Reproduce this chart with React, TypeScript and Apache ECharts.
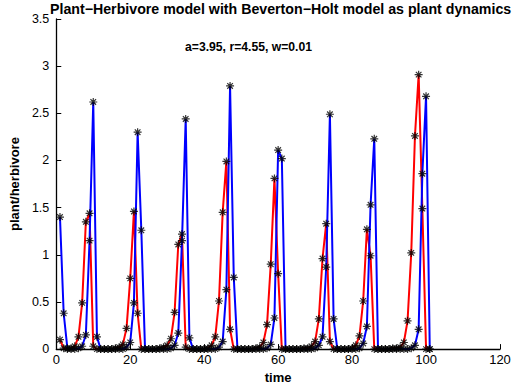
import React, { useEffect, useRef } from "react";
import * as echarts from "echarts";

const timeSteps: number[] = Array.from({ length: 101 }, (_, i) => i + 1);

const plant: number[] = [
  0.10, 0.01, 0.00, 0.01, 0.03, 0.13, 0.49, 1.35, 1.44, 0.03,
  0.00, 0.00, 0.00, 0.00, 0.00, 0.01, 0.02, 0.05, 0.22, 0.75,
  1.46, 0.38, 0.00, 0.00, 0.00, 0.00, 0.00, 0.01, 0.02, 0.04,
  0.11, 0.39, 1.11, 1.22, 0.02, 0.00, 0.00, 0.00, 0.00, 0.00,
  0.01, 0.04, 0.13, 0.51, 1.45, 1.99, 0.21, 0.00, 0.00, 0.00,
  0.00, 0.00, 0.00, 0.01, 0.02, 0.07, 0.26, 0.90, 1.81, 0.80,
  0.00, 0.00, 0.00, 0.00, 0.00, 0.00, 0.01, 0.01, 0.03, 0.08,
  0.32, 0.96, 1.33, 0.08, 0.00, 0.00, 0.00, 0.00, 0.00, 0.01,
  0.04, 0.14, 0.51, 1.27, 0.99, 0.00, 0.00, 0.00, 0.00, 0.00,
  0.01, 0.01, 0.02, 0.07, 0.30, 1.02, 2.26, 2.91, 1.49, 0.00,
  0.00,
];

const herbivore: number[] = [
  1.40, 0.38, 0.01, 0.00, 0.00, 0.01, 0.03, 0.15, 1.15, 2.62,
  0.13, 0.00, 0.00, 0.00, 0.00, 0.00, 0.00, 0.00, 0.02, 0.07,
  0.49, 2.30, 1.26, 0.00, 0.00, 0.00, 0.00, 0.00, 0.00, 0.00,
  0.01, 0.04, 0.17, 1.15, 2.44, 0.12, 0.00, 0.00, 0.00, 0.00,
  0.00, 0.00, 0.00, 0.02, 0.08, 0.63, 2.79, 0.76, 0.00, 0.00,
  0.00, 0.00, 0.00, 0.00, 0.00, 0.00, 0.01, 0.05, 0.33, 2.11,
  2.02, 0.00, 0.00, 0.00, 0.00, 0.00, 0.00, 0.00, 0.00, 0.01,
  0.04, 0.13, 0.87, 2.49, 0.32, 0.00, 0.00, 0.00, 0.00, 0.00,
  0.00, 0.01, 0.06, 0.24, 1.53, 2.23, 0.00, 0.00, 0.00, 0.00,
  0.00, 0.00, 0.00, 0.00, 0.00, 0.01, 0.04, 0.21, 1.86, 2.68,
  0.00,
];

const xTicks = { min: 0, max: 120, interval: 20 };
const yTicks = { min: 0, max: 3.5, interval: 0.5 };

const titleText = "Plant\u2212Herbivore model with Beverton\u2212Holt model as plant dynamics";
const subtitleText = "a=3.95, r=4.55, w=0.01";
const xLabel = "time";
const yLabel = "plant/herbivore";

const FONT = "'Liberation Sans', Arial, Helvetica, sans-serif";
const STAR = "path://M0,-1L0,1M-1,0L1,0M-0.7,-0.7L0.7,0.7M-0.7,0.7L0.7,-0.7";

export default function App() {
  const ref = useRef<HTMLDivElement>(null);
  useEffect(() => {
    if (!ref.current) return;
    const chart = echarts.init(ref.current, undefined, { renderer: "svg" });
    const plantPts = timeSteps.map((t, i) => [t, plant[i]]);
    const herbPts = timeSteps.map((t, i) => [t, herbivore[i]]);
    const markerSeries = (data: number[][]) => ({
      type: "scatter",
      data,
      symbol: STAR,
      symbolSize: 8,
      symbolKeepAspect: true,
      itemStyle: { color: "rgba(0,0,0,0)", borderColor: "#000", borderWidth: 1.2 },
      z: 5,
    });
    chart.setOption({
      animation: false,
      backgroundColor: "#fff",
      textStyle: { fontFamily: FONT },
      graphic: [
        {
          type: "text",
          x: 50,
          y: 9,
          style: {
            text: titleText,
            fontSize: 14.2,
            lineHeight: 14,
            fontWeight: "bold",
            fontFamily: FONT,
            fill: "#000",
            textAlign: "left",
            textVerticalAlign: "middle",
          },
        },
        {
          type: "text",
          x: 185,
          y: 47,
          style: {
            text: subtitleText,
            fontSize: 12.2,
            fontWeight: "bold",
            fontFamily: FONT,
            fill: "#000",
            textAlign: "left",
            textVerticalAlign: "middle",
          },
        },
      ],
      grid: { left: 54, right: 19, top: 19, bottom: 39 },
      xAxis: {
        type: "value",
        min: xTicks.min,
        max: xTicks.max,
        interval: xTicks.interval,
        name: xLabel,
        nameLocation: "middle",
        nameGap: 21,
        nameTextStyle: { fontSize: 13, fontWeight: "bold", color: "#000", fontFamily: FONT },
        axisLine: { lineStyle: { color: "#000", width: 1.3 } },
        axisTick: { inside: true, length: 5, lineStyle: { color: "#000" } },
        axisLabel: { fontSize: 13, color: "#000", margin: 4, fontFamily: FONT },
        splitLine: { show: false },
      },
      yAxis: {
        type: "value",
        min: yTicks.min,
        max: yTicks.max,
        interval: yTicks.interval,
        name: yLabel,
        nameLocation: "middle",
        nameGap: 32,
        nameRotate: 90,
        nameTextStyle: { fontSize: 13, fontWeight: "bold", color: "#000", fontFamily: FONT },
        axisLine: { lineStyle: { color: "#000", width: 1.3 } },
        axisTick: { inside: true, length: 5, lineStyle: { color: "#000" } },
        axisLabel: { fontSize: 12.5, color: "#000", margin: 7, fontFamily: FONT },
        splitLine: { show: false },
      },
      series: [
        {
          type: "line",
          data: plantPts,
          showSymbol: false,
          lineStyle: { color: "#ff0000", width: 2 },
          z: 2,
        },
        {
          type: "line",
          data: herbPts,
          showSymbol: false,
          lineStyle: { color: "#0000ff", width: 2 },
          z: 3,
        },
        markerSeries(plantPts),
        markerSeries(herbPts),
      ],
    });
    return () => chart.dispose();
  }, []);
  return <div ref={ref} style={{ width: 519, height: 389, position: "absolute", left: 0, top: 0 }} />;
}
